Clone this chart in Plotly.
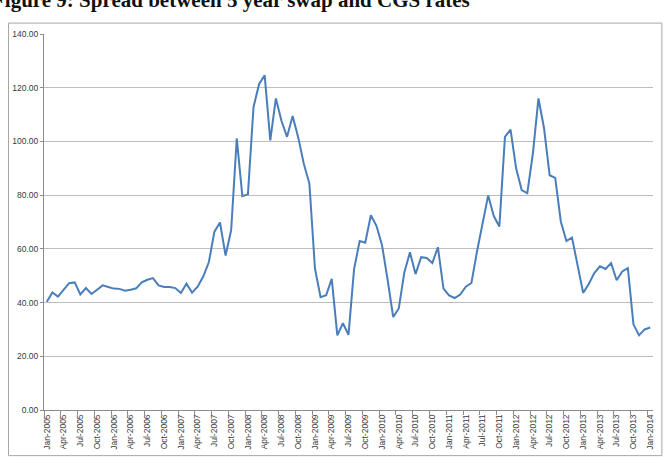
import plotly.graph_objects as go

month_names = ["Jan", "Feb", "Mar", "Apr", "May", "Jun", "Jul", "Aug", "Sep", "Oct", "Nov", "Dec"]
years = list(range(2005, 2015))
categories = [f"{m}-{y}" for y in years for m in month_names][:109]  # Jan-2005 .. Jan-2014

spread = [
    40.3, 43.8, 42.2, 44.8, 47.2, 47.5, 43.0, 45.4, 43.2, 44.8, 46.4, 45.8,
    45.2, 45.1, 44.4, 44.8, 45.3, 47.5, 48.5, 49.1, 46.4, 45.8, 45.8, 45.4,
    43.6, 47.0, 43.7, 45.9, 49.7, 55.0, 66.4, 69.8, 57.5, 67.0, 101.1, 79.6,
    80.3, 112.8, 121.4, 124.6, 100.4, 116.0, 107.7, 101.7, 109.5, 101.5, 91.7, 84.3,
    52.6, 42.0, 42.7, 48.8, 27.8, 32.3, 28.0, 52.5, 62.9, 62.3, 72.5, 68.6,
    61.4, 48.5, 34.6, 37.8, 51.3, 58.7, 50.6, 56.9, 56.6, 54.7, 60.6, 45.2,
    42.7, 41.7, 43.0, 45.9, 47.3, 59.0, 68.8, 79.9, 72.2, 68.3, 101.7, 104.4,
    90.0, 81.9, 80.7, 95.5, 116.0, 104.9, 87.4, 86.4, 70.2, 62.9, 64.2, 54.0,
    43.6, 46.9, 51.0, 53.5, 52.5, 54.7, 48.3, 51.6, 52.8, 31.9, 27.8, 30.0,
    30.7,
]

y_ticks = [0, 20, 40, 60, 80, 100, 120, 140]
title_text = "Figure 9: Spread between 5 year swap and CGS rates"

idx = list(range(len(categories)))
tick_idx = idx[::3]
tick_text = [categories[i] for i in tick_idx]

fig = go.Figure()
fig.add_trace(go.Scatter(
    x=idx, y=spread, mode="lines",
    line=dict(color="#4A7EBB", width=2),
    showlegend=False, hoverinfo="skip",
))

W, H = 667, 462
L, R, T, B = 35, 14, 34, 49
pw, ph = W - L - R, H - T - B

fig.update_layout(
    width=W, height=H,
    margin=dict(l=L, r=R, t=T, b=B, pad=0),
    paper_bgcolor="white", plot_bgcolor="white",
    font=dict(family="Liberation Sans, Arial, sans-serif", color="#3a3a3a"),
    xaxis=dict(
        range=[-0.5, len(categories) - 0.5],
        tickmode="array", tickvals=tick_idx, ticktext=tick_text,
        tickangle=-90, tickfont=dict(size=8.5, color="#3a3a3a"),
        ticks="", showgrid=False, zeroline=False,
        showline=True, linecolor="#8c8c8c", linewidth=1,
        minor=dict(tickmode="linear", tick0=-0.5, dtick=3, ticks="outside",
                   ticklen=4, tickcolor="#8c8c8c", tickwidth=1, showgrid=False),
    ),
    yaxis=dict(
        range=[0, 140], tickmode="array", tickvals=y_ticks,
        ticktext=[f"{v:.2f}" for v in y_ticks],
        tickfont=dict(size=8.5, color="#3a3a3a"),
        ticks="outside", ticklen=3, tickcolor="#8c8c8c",
        showgrid=True, gridcolor="#bdbdbd", gridwidth=1,
        zeroline=False, showline=True, linecolor="#8c8c8c", linewidth=1,
    ),
    shapes=[dict(
        type="rect", xref="paper", yref="paper",
        x0=(-1 - L) / pw, x1=(662 - L) / pw,
        y0=(H - B - 459) / ph, y1=(H - B - 23) / ph,
        line=dict(color="#a6a6a6", width=1), fillcolor="rgba(0,0,0,0)", layer="below",
    )],
    annotations=[dict(
        text=f"<b>{title_text}</b>", xref="paper", yref="paper",
        x=(-20 - L) / pw, y=1 + (T - 0) / ph, xanchor="left", yanchor="middle",
        showarrow=False, font=dict(family="Liberation Serif, Times New Roman, serif", size=21, color="#111111"),
    )],
)

fig.write_html("out.html")
